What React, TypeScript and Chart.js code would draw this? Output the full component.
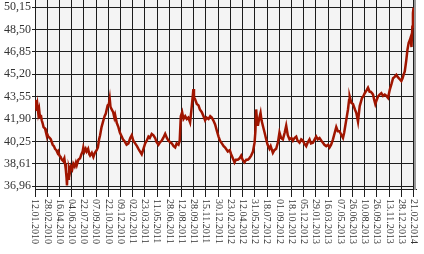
import React, { useEffect, useRef } from "react";
import { Chart, registerables } from "chart.js";

Chart.register(...registerables);

const dateLabels = [
  "12.01.2010", "28.02.2010", "16.04.2010", "04.06.2010", "22.07.2010", "07.09.2010",
  "22.10.2010", "09.12.2010", "02.02.2011", "23.03.2011", "11.05.2011", "28.06.2011",
  "12.08.2011", "28.09.2011", "15.11.2011", "30.12.2011", "23.02.2012", "12.04.2012",
  "31.05.2012", "18.07.2012", "01.09.2012", "18.10.2012", "05.12.2012", "29.01.2013",
  "16.03.2013", "07.05.2013", "26.06.2013", "10.08.2013", "26.09.2013", "13.11.2013",
  "28.12.2013", "21.02.2014",
];

const yTickValues = [36.96, 38.61, 40.25, 41.9, 43.55, 45.2, 46.85, 48.5, 50.15];

// position of each observation, measured in label intervals (0 = 12.01.2010, 31 = 21.02.2014)
const obsPos = [
  0.0, 0.05, 0.1, 0.14, 0.2, 0.27, 0.34, 0.41, 0.48, 0.55, 0.62, 0.7, 0.82, 0.9, 1.0, 1.09, 1.2, 1.3, 1.37, 1.45,
  1.55, 1.64, 1.75, 1.85, 1.91, 2.0, 2.1, 2.19, 2.3, 2.4, 2.46, 2.52, 2.58, 2.62, 2.66, 2.72, 2.78, 2.87, 2.95, 3.05,
  3.14, 3.25, 3.35, 3.42, 3.55, 3.69, 3.8, 3.9, 3.96, 4.05, 4.15, 4.23, 4.35, 4.45, 4.51, 4.65, 4.78, 4.9, 5.05, 5.15,
  5.25, 5.33, 5.45, 5.6, 5.7, 5.8, 5.87, 5.95, 6.05, 6.12, 6.18, 6.28, 6.4, 6.5, 6.56, 6.7, 6.83, 6.95, 7.1, 7.2,
  7.38, 7.5, 7.65, 7.8, 7.92, 8.05, 8.2, 8.35, 8.47, 8.6, 8.74, 8.85, 9.02, 9.15, 9.29, 9.4, 9.56, 9.7, 9.84, 9.95,
  10.11, 10.25, 10.38, 10.5, 10.66, 10.8, 10.93, 11.05, 11.2, 11.35, 11.48, 11.6, 11.75, 11.85, 11.94, 12.05, 12.16, 12.3, 12.43, 12.55,
  12.7, 12.8, 12.92, 12.97, 13.02, 13.11, 13.25, 13.39, 13.5, 13.66, 13.8, 13.93, 14.05, 14.21, 14.35, 14.48, 14.6, 14.75, 14.9, 15.03,
  15.15, 15.3, 15.45, 15.57, 15.79, 15.95, 16.06, 16.2, 16.34, 16.45, 16.61, 16.75, 16.88, 17.0, 17.16, 17.3, 17.43, 17.55, 17.7, 17.85,
  17.98, 18.05, 18.11, 18.18, 18.25, 18.35, 18.47, 18.55, 18.66, 18.8, 18.93, 19.05, 19.2, 19.3, 19.48, 19.6, 19.75, 19.9, 20.02, 20.15,
  20.3, 20.45, 20.57, 20.7, 20.84, 21.0, 21.12, 21.25, 21.39, 21.5, 21.66, 21.8, 21.94, 22.05, 22.21, 22.35, 22.48, 22.6, 22.76, 22.9,
  23.03, 23.15, 23.3, 23.45, 23.58, 23.7, 23.85, 24.0, 24.12, 24.25, 24.4, 24.55, 24.67, 24.8, 24.94, 25.1, 25.22, 25.32, 25.41, 25.52,
  25.63, 25.72, 25.77, 25.9, 26.04, 26.2, 26.31, 26.45, 26.59, 26.7, 26.78, 26.9, 27.0, 27.15, 27.27, 27.4, 27.49, 27.6, 27.68, 27.78,
  27.87, 27.98, 28.09, 28.22, 28.36, 28.5, 28.64, 28.78, 28.91, 29.05, 29.2, 29.32, 29.45, 29.59, 29.7, 29.79, 29.9, 30.0, 30.1, 30.2,
  30.28, 30.4, 30.5, 30.6, 30.69, 30.76, 30.83, 30.9, 30.95, 31.0,
];

const rate = [
  42.9, 43.3, 42.8, 42.5, 42.9, 42.3, 42.6, 42.0, 42.2, 41.8, 41.6, 41.3, 41.2, 40.9, 40.8, 40.6, 40.5, 40.4, 40.2, 40.0,
  39.9, 39.7, 39.6, 39.4, 39.5, 39.2, 39.1, 38.9, 38.8, 39.0, 38.6, 38.2, 37.6, 37.0, 37.9, 37.5, 38.3, 38.0, 38.4, 38.2,
  38.6, 38.4, 38.7, 38.5, 38.9, 39.0, 39.3, 39.5, 39.8, 39.5, 39.7, 39.5, 39.7, 39.3, 39.2, 39.4, 39.1, 39.4, 39.6, 39.8,
  40.4, 40.7, 41.3, 41.8, 42.1, 42.3, 42.6, 42.9, 43.0, 43.4, 42.8, 42.6, 42.4, 42.0, 42.2, 41.6, 41.3, 40.9, 40.6, 40.4,
  40.2, 40.0, 40.1, 40.5, 40.7, 40.3, 40.1, 39.9, 39.7, 39.5, 39.3, 39.6, 40.1, 40.3, 40.6, 40.5, 40.8, 40.7, 40.5, 40.2,
  40.0, 40.2, 40.3, 40.5, 40.8, 40.5, 40.3, 40.2, 40.1, 39.9, 39.8, 40.1, 40.0, 40.3, 42.1, 42.4, 41.9, 42.1, 41.9, 42.0,
  41.65, 42.5, 43.6, 44.1, 43.5, 43.35, 43.0, 42.9, 42.6, 42.4, 42.1, 41.8, 42.0, 41.9, 42.1, 42.0, 41.8, 41.5, 41.0, 40.6,
  40.3, 40.1, 39.9, 39.8, 39.5, 39.6, 39.3, 39.0, 38.7, 38.9, 38.9, 39.0, 39.2, 38.9, 38.7, 38.9, 38.9, 39.0, 39.2, 39.5,
  40.15, 41.0, 42.6, 41.8, 41.4, 41.9, 42.35, 41.8, 41.4, 40.9, 40.4, 40.0, 39.7, 39.9, 39.4, 39.6, 39.7, 40.2, 40.9, 40.5,
  40.4, 40.9, 41.4, 40.7, 40.4, 40.5, 40.3, 40.5, 40.6, 40.3, 40.15, 40.4, 40.3, 40.1, 39.9, 40.2, 40.4, 40.1, 40.15, 40.4,
  40.6, 40.4, 40.5, 40.3, 40.15, 40.0, 39.9, 40.0, 39.8, 40.0, 40.4, 40.9, 41.3, 41.0, 41.0, 40.7, 40.5, 40.9, 41.4, 42.0,
  42.6, 43.3, 43.55, 43.1, 43.0, 42.6, 42.35, 41.7, 42.85, 43.2, 43.45, 43.6, 43.8, 44.0, 44.2, 43.9, 43.9, 43.8, 43.7, 43.3,
  43.0, 43.3, 43.55, 43.7, 43.8, 43.6, 43.7, 43.6, 43.45, 44.05, 44.5, 44.9, 45.0, 45.15, 45.0, 44.9, 44.8, 44.7, 44.9, 45.2,
  45.4, 46.2, 47.0, 47.5, 47.7, 47.9, 47.2, 48.7, 49.7, 50.1,
];

const SERIF = "'Liberation Serif', 'Times New Roman', 'DejaVu Serif', serif";

export default function App() {
  const canvasRef = useRef<HTMLCanvasElement>(null);

  useEffect(() => {
    document.body.style.margin = "0";
    const canvas = canvasRef.current;
    if (!canvas) return;

    const decor = {
      id: "decor",
      beforeDraw(chart: any) {
        const { ctx, chartArea } = chart;
        ctx.save();
        ctx.fillStyle = "#f4f4f4";
        ctx.fillRect(chartArea.left, chartArea.top, chartArea.right - chartArea.left, chartArea.bottom - chartArea.top);
        ctx.restore();
      },
      afterDraw(chart: any) {
        const { ctx, chartArea } = chart;
        const xs = chart.scales.x;
        ctx.save();
        ctx.strokeStyle = "#9a9a9a";
        ctx.lineWidth = 2;
        ctx.beginPath();
        ctx.moveTo(chartArea.right - 1, chartArea.top);
        ctx.lineTo(chartArea.right - 1, chartArea.bottom + 1);
        ctx.stroke();
        ctx.fillStyle = "#333";
        ctx.font = `10px ${SERIF}`;
        ctx.textAlign = "left";
        ctx.textBaseline = "middle";
        dateLabels.forEach((lab, i) => {
          const px = xs.getPixelForValue(i);
          ctx.save();
          ctx.translate(px, chartArea.bottom + 10);
          ctx.rotate(Math.PI / 2);
          ctx.fillText(lab, 0, 0);
          ctx.restore();
        });
        ctx.restore();
      },
    };

    const chart = new Chart(canvas, {
      type: "line",
      data: {
        datasets: [
          {
            data: obsPos.map((x, i) => ({ x, y: rate[i] })),
            borderColor: "#a01500",
            borderWidth: 2.5,
            pointRadius: 0,
            tension: 0,
          },
        ],
      },
      options: {
        animation: false,
        responsive: false,
        devicePixelRatio: 1,
        layout: { padding: { top: 0, right: 8, bottom: 57, left: 0 } },
        plugins: { legend: { display: false }, tooltip: { enabled: false } },
        scales: {
          x: {
            type: "linear",
            min: 0,
            max: 31.2,
            afterBuildTicks: (s: any) => {
              s.ticks = dateLabels.map((_, i) => ({ value: i }));
            },
            afterFit: (s: any) => {
              s.paddingLeft = 0;
              s.paddingRight = 0;
            },
            ticks: { display: false },
            grid: { color: "#1e1e1e", lineWidth: 1, tickLength: 8, drawTicks: true },
            border: { display: true, color: "#1e1e1e", width: 1 },
          },
          y: {
            type: "linear",
            min: 36.739,
            max: 50.666,
            afterBuildTicks: (s: any) => {
              s.ticks = yTickValues.map((v) => ({ value: v }));
            },
            afterFit: (s: any) => {
              s.width = 35;
              s.paddingTop = 0;
              s.paddingBottom = 0;
            },
            ticks: {
              callback: (v: any) => Number(v).toFixed(2).replace(".", ","),
              font: { family: SERIF, size: 12 },
              color: "#333",
              padding: 1,
            },
            grid: { color: "#1e1e1e", lineWidth: 1, tickLength: 3 },
            border: { display: false },
          },
        },
      },
      plugins: [decor],
    });

    return () => chart.destroy();
  }, []);

  return <canvas ref={canvasRef} width={424} height={254} style={{ display: "block" }} />;
}
